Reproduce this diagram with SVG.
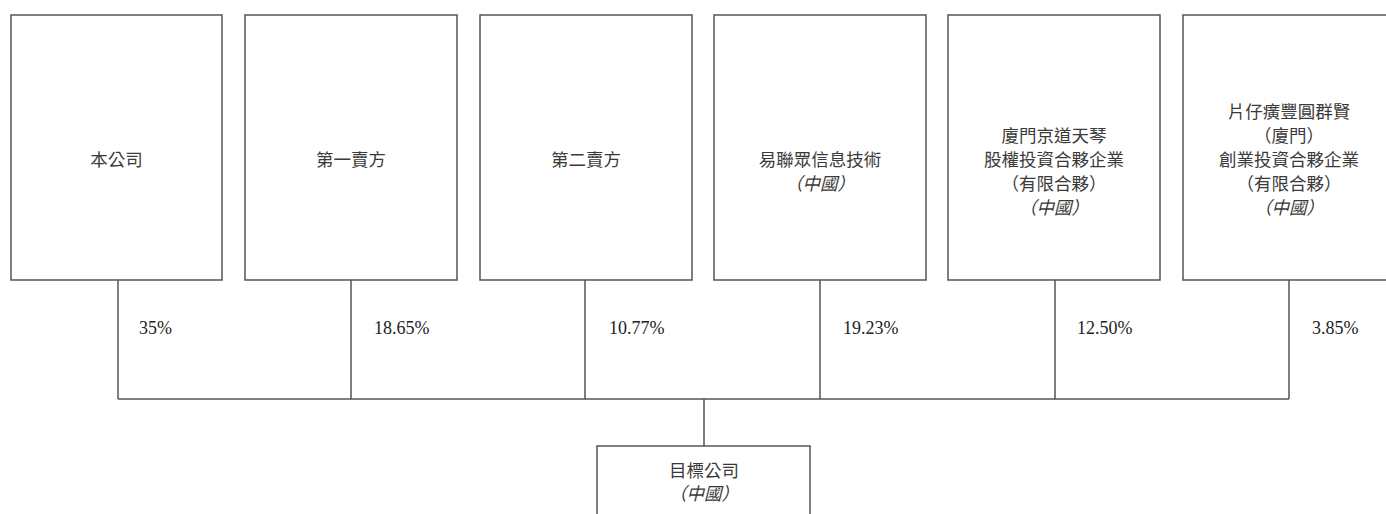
<svg xmlns="http://www.w3.org/2000/svg" width="1386" height="514" viewBox="0 0 1386 514">
<style>
.box{fill:#fff;stroke:#555;stroke-width:1.5}
.ln{fill:none;stroke:#555;stroke-width:1.5}
.t{font-family:"Liberation Serif","Noto Sans CJK TC",serif;font-size:17.5px;fill:#3a3a3a;text-anchor:middle}
.i{font-style:italic}
.p{font-family:"Liberation Serif",serif;font-size:18px;fill:#222}
</style>
<rect width="1386" height="514" fill="#fff"/>
<g id="connectors">
<path class="ln" d="M118 280V399M351 280V399M585 280V399M820 280V399M1055 280V399M1289 280V399M118 399H1289M704 399V446"/>
<text class="p" x="139" y="334">35%</text>
<text class="p" x="374" y="334">18.65%</text>
<text class="p" x="609" y="334">10.77%</text>
<text class="p" x="843" y="334">19.23%</text>
<text class="p" x="1077" y="334">12.50%</text>
<text class="p" x="1312" y="334">3.85%</text>
</g>
<g id="n1"><rect class="box" x="11" y="15" width="211" height="265"/><text class="t" x="116.5" y="166">本公司</text></g>
<g id="n2"><rect class="box" x="245" y="15" width="212" height="265"/><text class="t" x="351" y="166">第一賣方</text></g>
<g id="n3"><rect class="box" x="480" y="15" width="212" height="265"/><text class="t" x="586" y="166">第二賣方</text></g>
<g id="n4"><rect class="box" x="714" y="15" width="212" height="265"/><text class="t" x="820" y="166">易聯眾信息技術</text><text class="t i" x="820" y="190">（中國）</text></g>
<g id="n5"><rect class="box" x="948" y="15" width="212" height="265"/><text class="t" x="1054" y="142">廈門京道天琴</text><text class="t" x="1054" y="166">股權投資合夥企業</text><text class="t" x="1054" y="190">（有限合夥）</text><text class="t i" x="1054" y="214">（中國）</text></g>
<g id="n6"><rect class="box" x="1183" y="15" width="212" height="265"/><text class="t" x="1289" y="118">片仔癀豐圓群賢</text><text class="t" x="1289" y="142">（廈門）</text><text class="t" x="1289" y="166">創業投資合夥企業</text><text class="t" x="1289" y="190">（有限合夥）</text><text class="t i" x="1289" y="214">（中國）</text></g>
<g id="target"><rect class="box" x="597" y="446" width="213" height="80"/><text class="t" x="704" y="477">目標公司</text><text class="t i" x="704" y="500">（中國）</text></g>
</svg>
